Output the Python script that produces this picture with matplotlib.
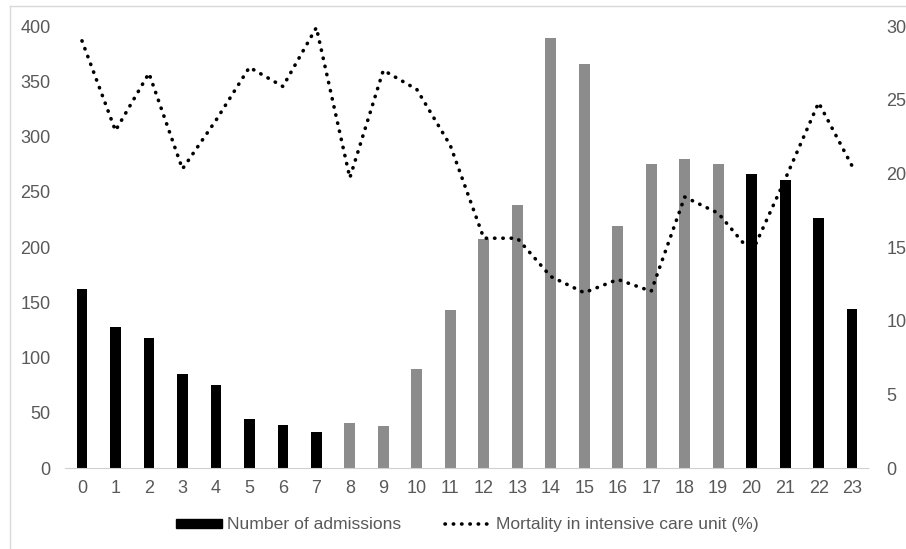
import numpy as np
import matplotlib
matplotlib.use("Agg")
import matplotlib.pyplot as plt
from matplotlib.patches import Patch
from matplotlib.lines import Line2D

plt.rcParams['font.family'] = ['Liberation Sans', 'DejaVu Sans']

# hour of day
hours = list(range(24))
admissions = [162, 128, 118, 85, 75, 44, 39, 33, 41, 38, 90, 143,
              207, 238, 389, 366, 219, 275, 280, 275, 266, 261, 226, 144]
mortality = [29.0, 22.9, 26.8, 20.3, 23.6, 27.2, 25.9, 29.9, 19.7, 27.0, 25.7, 21.9,
             15.6, 15.6, 13.0, 11.9, 12.8, 12.0, 18.4, 17.3, 14.6, 19.6, 24.8, 20.5]
# day shift hours drawn in gray
day_hours = list(range(8, 20))

grey_txt = '#595959'
bar_colors = ['#8c8c8c' if h in day_hours else 'black' for h in hours]

fig = plt.figure(figsize=(9.06, 5.49), dpi=100)
ax = fig.add_axes([0.072, 0.1475, 0.887, 0.805])
ax2 = ax.twinx()

ax.bar(hours, admissions, width=0.32, color=bar_colors, zorder=2)
ax2.plot(hours, mortality, color='black', lw=2.6,
         linestyle=(0, (0.1, 2.2)), dash_capstyle='round')

ax.set_xlim(-0.5, 23.5)
ax.set_ylim(0, 400)
ax2.set_ylim(0, 30)
ax.set_xticks(hours)
ax.set_yticks(range(0, 401, 50))
ax2.set_yticks(range(0, 31, 5))

for a in (ax, ax2):
    for s in a.spines.values():
        s.set_visible(False)
    a.tick_params(length=0, labelsize=13, labelcolor=grey_txt)
ax.spines['bottom'].set_visible(True)
ax.spines['bottom'].set_color('#d0d0d0')
ax.spines['bottom'].set_linestyle((0, (1, 1)))
ax.tick_params(axis='y', pad=10.5)
ax.tick_params(axis='x', pad=8.5)
ax2.tick_params(axis='y', pad=12.5)

handles = [Patch(facecolor='black', edgecolor='black'),
           Line2D([0], [0], color='black', lw=2.6, linestyle=(0, (0.1, 2.2)),
                  dash_capstyle='round')]
labels = ['Number of admissions', 'Mortality in intensive care unit (%)']
leg = fig.legend(handles, labels, loc='center', bbox_to_anchor=(0.516, 0.044),
                 ncol=2, frameon=False, fontsize=12.6, handlelength=2.6,
                 handleheight=0.42, handletextpad=0.3, columnspacing=2.5)
for t in leg.get_texts():
    t.set_color(grey_txt)

# light frame along top and left edge
fig.add_artist(Line2D([10 / 906, 1], [1 - 6 / 549, 1 - 6 / 549],
                      color='#d9d9d9', lw=1, transform=fig.transFigure))
fig.add_artist(Line2D([10 / 906, 10 / 906], [0, 1 - 6 / 549],
                      color='#d9d9d9', lw=1, transform=fig.transFigure))

fig.savefig('out.png', dpi=100)
